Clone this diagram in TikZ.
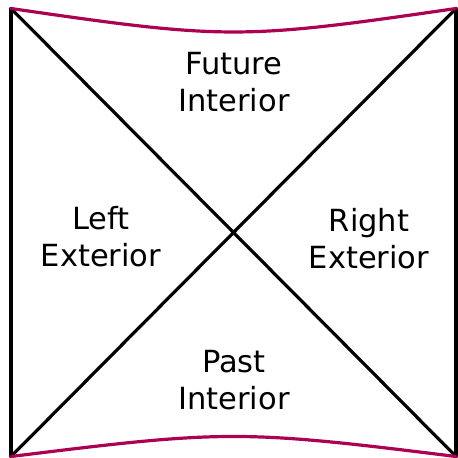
\documentclass[tikz,border=0pt]{standalone}
\usepackage{fontspec}
\setmainfont{DejaVu Sans}
\definecolor{singred}{RGB}{172,0,82}
\begin{document}
\begin{tikzpicture}[x=1pt,y=-1pt,
  edge/.style={line width=3.2pt, black, line cap=round},
  sing/.style={line width=3.2pt, color=singred, line cap=round},
  lbl/.style={align=center, inner sep=0pt, font=\fontsize{30.5}{37}\selectfont}]
\useasboundingbox (0,0) rectangle (458,458);
\coordinate (TL) at (11,8.5);
\coordinate (TR) at (456,8.5);
\coordinate (BL) at (11,456.5);
\coordinate (BR) at (456,456.5);
\draw[edge] (TL) -- (BL);
\draw[edge] (TR) -- (BR);
\draw[edge] (TL) -- (BR);
\draw[edge] (TR) -- (BL);
\draw[sing] (TL) .. controls (226,39.8) and (241,39.8) .. (TR);
\draw[sing] (BL) .. controls (226,429.8) and (241,429.8) .. (BR);
\node[lbl] (future) at (234,82) {Future\\Interior};
\node[lbl] (left) at (101,237) {Left\\Exterior};
\node[lbl] (right) at (369,239) {Right\\Exterior};
\node[lbl] (past) at (234,380) {Past\\Interior};
\end{tikzpicture}
\end{document}
